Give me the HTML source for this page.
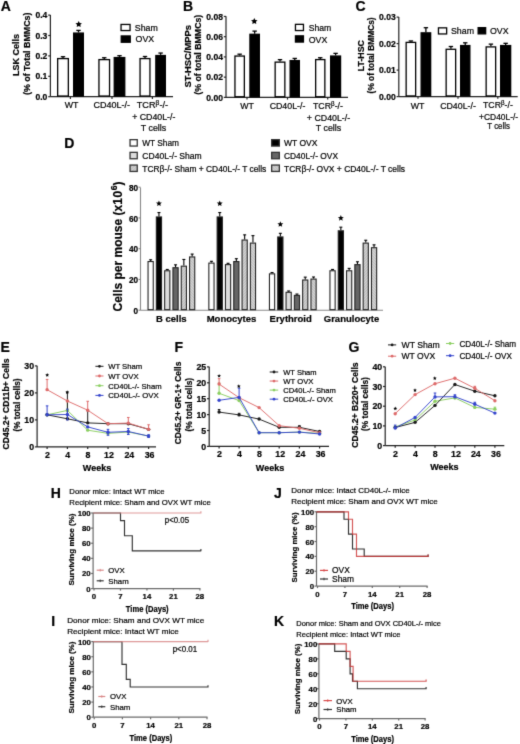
<!DOCTYPE html>
<html><head><meta charset="utf-8"><style>
html,body{margin:0;padding:0;background:#fff;width:520px;height:744px;overflow:hidden}
svg{display:block}
text{font-family:"Liberation Sans", sans-serif;stroke:#000;stroke-width:0.2px;paint-order:stroke}
</style></head><body>
<svg width="520" height="744" viewBox="0 0 520 744">
<defs><pattern id="h1" patternUnits="userSpaceOnUse" width="2" height="2" patternTransform="rotate(45)">
<rect width="2" height="2" fill="#d2d2d2"/><line x1="0" y1="0" x2="0" y2="2" stroke="#999" stroke-width="0.8"/></pattern><pattern id="h2" patternUnits="userSpaceOnUse" width="2" height="2" patternTransform="rotate(-45)">
<rect width="2" height="2" fill="#d4d4d4"/><line x1="0" y1="0" x2="0" y2="2" stroke="#9a9a9a" stroke-width="0.8"/></pattern><filter id="bl" x="0" y="0" width="520" height="744" filterUnits="userSpaceOnUse" color-interpolation-filters="sRGB"><feConvolveMatrix order="3" kernelMatrix="0.0225 0.15 0.0225 0.15 1 0.15 0.0225 0.15 0.0225" edgeMode="duplicate"/></filter></defs>
<g filter="url(#bl)">
<rect width="520" height="744" fill="#fff"/>
<text x="0.8" y="11" font-size="14" font-weight="bold" text-anchor="start" fill="#000">A</text>
<line x1="50.4" y1="15" x2="50.4" y2="96.7" stroke="#222" stroke-width="1.2"/>
<line x1="50.4" y1="96.7" x2="173" y2="96.7" stroke="#222" stroke-width="1.2"/>
<line x1="48.199999999999996" y1="96.7" x2="50.4" y2="96.7" stroke="#222" stroke-width="1.2"/>
<text x="47.4" y="99.8" font-size="8.6" font-weight="bold" text-anchor="end" fill="#000">0.0</text>
<line x1="48.199999999999996" y1="76.3" x2="50.4" y2="76.3" stroke="#222" stroke-width="1.2"/>
<text x="47.4" y="79.39999999999999" font-size="8.6" font-weight="bold" text-anchor="end" fill="#000">0.1</text>
<line x1="48.199999999999996" y1="55.9" x2="50.4" y2="55.9" stroke="#222" stroke-width="1.2"/>
<text x="47.4" y="59.0" font-size="8.6" font-weight="bold" text-anchor="end" fill="#000">0.2</text>
<line x1="48.199999999999996" y1="35.50000000000001" x2="50.4" y2="35.50000000000001" stroke="#222" stroke-width="1.2"/>
<text x="47.4" y="38.60000000000001" font-size="8.6" font-weight="bold" text-anchor="end" fill="#000">0.3</text>
<line x1="48.199999999999996" y1="15.099999999999994" x2="50.4" y2="15.099999999999994" stroke="#222" stroke-width="1.2"/>
<text x="47.4" y="18.199999999999996" font-size="8.6" font-weight="bold" text-anchor="end" fill="#000">0.4</text>
<line x1="70.4" y1="96.7" x2="70.4" y2="98.9" stroke="#222" stroke-width="1.2"/>
<line x1="112" y1="96.7" x2="112" y2="98.9" stroke="#222" stroke-width="1.2"/>
<line x1="152.4" y1="96.7" x2="152.4" y2="98.9" stroke="#222" stroke-width="1.2"/>
<line x1="63.0" y1="56.716" x2="63.0" y2="57.940000000000005" stroke="#000" stroke-width="1.3"/>
<line x1="60.8" y1="56.716" x2="65.2" y2="56.716" stroke="#000" stroke-width="1.3"/>
<rect x="57.65" y="58.59" width="10.7" height="37.46" fill="#fff" stroke="#000" stroke-width="1.3"/>
<line x1="78.5" y1="30.400000000000006" x2="78.5" y2="32.44" stroke="#000" stroke-width="1.3"/>
<line x1="76.3" y1="30.400000000000006" x2="80.7" y2="30.400000000000006" stroke="#000" stroke-width="1.3"/>
<rect x="73.65" y="33.09" width="9.7" height="62.96" fill="#000" stroke="#000" stroke-width="1.3"/>
<line x1="104.25" y1="57.736000000000004" x2="104.25" y2="58.96" stroke="#000" stroke-width="1.3"/>
<line x1="102.05" y1="57.736000000000004" x2="106.45" y2="57.736000000000004" stroke="#000" stroke-width="1.3"/>
<rect x="98.95" y="59.61" width="10.6" height="36.44" fill="#fff" stroke="#000" stroke-width="1.3"/>
<line x1="119.5" y1="55.696" x2="119.5" y2="56.92" stroke="#000" stroke-width="1.3"/>
<line x1="117.3" y1="55.696" x2="121.7" y2="55.696" stroke="#000" stroke-width="1.3"/>
<rect x="114.25" y="57.57" width="10.5" height="38.48" fill="#000" stroke="#000" stroke-width="1.3"/>
<line x1="145.0" y1="56.512" x2="145.0" y2="57.940000000000005" stroke="#000" stroke-width="1.3"/>
<line x1="142.8" y1="56.512" x2="147.2" y2="56.512" stroke="#000" stroke-width="1.3"/>
<rect x="140.05" y="58.59" width="9.9" height="37.46" fill="#fff" stroke="#000" stroke-width="1.3"/>
<line x1="160.6" y1="53.044000000000004" x2="160.6" y2="54.88" stroke="#000" stroke-width="1.3"/>
<line x1="158.4" y1="53.044000000000004" x2="162.79999999999998" y2="53.044000000000004" stroke="#000" stroke-width="1.3"/>
<rect x="155.85" y="55.53" width="9.5" height="40.52" fill="#000" stroke="#000" stroke-width="1.3"/>
<polygon points="78.70,20.90 79.70,22.92 81.93,23.25 80.32,24.83 80.70,27.05 78.70,26.00 76.70,27.05 77.08,24.83 75.47,23.25 77.70,22.92" fill="#000"/>
<rect x="121.05" y="24.45" width="9.0" height="6.1" fill="#fff" stroke="#000" stroke-width="1.3"/>
<text x="134.8" y="30.9" font-size="8.8" text-anchor="start" fill="#000">Sham</text>
<rect x="121.25" y="35.95" width="9.0" height="6.3" fill="#000" stroke="#000" stroke-width="1.3"/>
<text x="135.6" y="42.4" font-size="8.8" text-anchor="start" fill="#000">OVX</text>
<text x="19" y="55" font-size="9" font-weight="bold" text-anchor="middle" fill="#000" transform="rotate(-90 19 55)">LSK Cells</text>
<text x="29.8" y="53.8" font-size="9" font-weight="bold" text-anchor="middle" fill="#000" transform="rotate(-90 29.8 53.8)" textLength="82.5" lengthAdjust="spacingAndGlyphs">(% of Total BMMCs)</text>
<text x="71.6" y="108" font-size="8.8" text-anchor="middle" fill="#000">WT</text>
<text x="111.8" y="108" font-size="8.8" text-anchor="middle" fill="#000" textLength="36.5" lengthAdjust="spacingAndGlyphs">CD40L-/-</text>
<text x="152.4" y="108" font-size="8.8" text-anchor="middle" fill="#000" textLength="31.3" lengthAdjust="spacingAndGlyphs">TCR<tspan font-size="6.34" dy="-2.6">β</tspan><tspan dy="2.6">-/-</tspan></text>
<text x="153.8" y="119.5" font-size="8.8" text-anchor="middle" fill="#000">+ CD40L-/-</text>
<text x="153.5" y="131" font-size="8.8" text-anchor="middle" fill="#000">T cells</text>
<text x="183" y="11" font-size="14" font-weight="bold" text-anchor="start" fill="#000">B</text>
<line x1="226" y1="16.2" x2="226" y2="97.4" stroke="#222" stroke-width="1.2"/>
<line x1="226" y1="97.4" x2="348" y2="97.4" stroke="#222" stroke-width="1.2"/>
<line x1="223.8" y1="97.4" x2="226" y2="97.4" stroke="#222" stroke-width="1.2"/>
<text x="223" y="100.5" font-size="8.6" font-weight="bold" text-anchor="end" fill="#000">0.00</text>
<line x1="223.8" y1="77.16" x2="226" y2="77.16" stroke="#222" stroke-width="1.2"/>
<text x="223" y="80.25999999999999" font-size="8.6" font-weight="bold" text-anchor="end" fill="#000">0.02</text>
<line x1="223.8" y1="56.92" x2="226" y2="56.92" stroke="#222" stroke-width="1.2"/>
<text x="223" y="60.02" font-size="8.6" font-weight="bold" text-anchor="end" fill="#000">0.04</text>
<line x1="223.8" y1="36.68000000000001" x2="226" y2="36.68000000000001" stroke="#222" stroke-width="1.2"/>
<text x="223" y="39.78000000000001" font-size="8.6" font-weight="bold" text-anchor="end" fill="#000">0.06</text>
<line x1="223.8" y1="16.439999999999998" x2="226" y2="16.439999999999998" stroke="#222" stroke-width="1.2"/>
<text x="223" y="19.54" font-size="8.6" font-weight="bold" text-anchor="end" fill="#000">0.08</text>
<line x1="247" y1="97.4" x2="247" y2="99.60000000000001" stroke="#222" stroke-width="1.2"/>
<line x1="287.5" y1="97.4" x2="287.5" y2="99.60000000000001" stroke="#222" stroke-width="1.2"/>
<line x1="327.7" y1="97.4" x2="327.7" y2="99.60000000000001" stroke="#222" stroke-width="1.2"/>
<line x1="239.65" y1="54.1876" x2="239.65" y2="55.402" stroke="#000" stroke-width="1.3"/>
<line x1="237.45000000000002" y1="54.1876" x2="241.85" y2="54.1876" stroke="#000" stroke-width="1.3"/>
<rect x="234.95" y="56.05" width="9.4" height="40.7" fill="#fff" stroke="#000" stroke-width="1.3"/>
<line x1="254.65" y1="31.114000000000004" x2="254.65" y2="33.644000000000005" stroke="#000" stroke-width="1.3"/>
<line x1="252.45000000000002" y1="31.114000000000004" x2="256.85" y2="31.114000000000004" stroke="#000" stroke-width="1.3"/>
<rect x="249.95" y="34.29" width="9.4" height="62.46" fill="#000" stroke="#000" stroke-width="1.3"/>
<line x1="280.0" y1="59.65240000000001" x2="280.0" y2="61.47400000000001" stroke="#000" stroke-width="1.3"/>
<line x1="277.8" y1="59.65240000000001" x2="282.2" y2="59.65240000000001" stroke="#000" stroke-width="1.3"/>
<rect x="275.15" y="62.12" width="9.7" height="34.63" fill="#fff" stroke="#000" stroke-width="1.3"/>
<line x1="294.75" y1="58.43800000000001" x2="294.75" y2="59.95600000000001" stroke="#000" stroke-width="1.3"/>
<line x1="292.55" y1="58.43800000000001" x2="296.95" y2="58.43800000000001" stroke="#000" stroke-width="1.3"/>
<rect x="290.15" y="60.61" width="9.2" height="36.14" fill="#000" stroke="#000" stroke-width="1.3"/>
<line x1="320.25" y1="57.729600000000005" x2="320.25" y2="58.94400000000001" stroke="#000" stroke-width="1.3"/>
<line x1="318.05" y1="57.729600000000005" x2="322.45" y2="57.729600000000005" stroke="#000" stroke-width="1.3"/>
<rect x="315.65" y="59.59" width="9.2" height="37.16" fill="#fff" stroke="#000" stroke-width="1.3"/>
<line x1="335.6" y1="53.378" x2="335.6" y2="55.402" stroke="#000" stroke-width="1.3"/>
<line x1="333.40000000000003" y1="53.378" x2="337.8" y2="53.378" stroke="#000" stroke-width="1.3"/>
<rect x="330.65" y="56.05" width="9.9" height="40.7" fill="#000" stroke="#000" stroke-width="1.3"/>
<polygon points="254.30,17.90 255.30,19.92 257.53,20.25 255.92,21.83 256.30,24.05 254.30,23.00 252.30,24.05 252.68,21.83 251.07,20.25 253.30,19.92" fill="#000"/>
<rect x="295.45" y="24.35" width="8.0" height="6.2" fill="#fff" stroke="#000" stroke-width="1.3"/>
<text x="308.7" y="31" font-size="8.8" text-anchor="start" fill="#000" textLength="22.5" lengthAdjust="spacingAndGlyphs">Sham</text>
<rect x="295.45" y="35.85" width="8.0" height="6.2" fill="#000" stroke="#000" stroke-width="1.3"/>
<text x="308.7" y="42.6" font-size="8.8" text-anchor="start" fill="#000">OVX</text>
<text x="191.5" y="56.3" font-size="9.4" font-weight="bold" text-anchor="middle" fill="#000" transform="rotate(-90 191.5 56.3)">ST-HSC/MPPs</text>
<text x="201.2" y="54.7" font-size="8.8" font-weight="bold" text-anchor="middle" fill="#000" transform="rotate(-90 201.2 54.7)" textLength="80" lengthAdjust="spacingAndGlyphs">(% of total  BMMCs)</text>
<text x="247" y="108.5" font-size="8.8" text-anchor="middle" fill="#000">WT</text>
<text x="287.5" y="108.5" font-size="8.8" text-anchor="middle" fill="#000">CD40L-/-</text>
<text x="328" y="108.5" font-size="8.8" text-anchor="middle" fill="#000" textLength="30" lengthAdjust="spacingAndGlyphs">TCR<tspan font-size="6.34" dy="-2.6">β</tspan><tspan dy="2.6">-/-</tspan></text>
<text x="328.5" y="121" font-size="8.8" text-anchor="middle" fill="#000">+ CD40L-/-</text>
<text x="328.5" y="131" font-size="8.8" text-anchor="middle" fill="#000">T cells</text>
<text x="355.5" y="11" font-size="14" font-weight="bold" text-anchor="start" fill="#000">C</text>
<line x1="398.8" y1="17" x2="398.8" y2="96.6" stroke="#222" stroke-width="1.2"/>
<line x1="398.8" y1="96.6" x2="517.7" y2="96.6" stroke="#222" stroke-width="1.2"/>
<line x1="396.6" y1="96.6" x2="398.8" y2="96.6" stroke="#222" stroke-width="1.2"/>
<text x="395.8" y="99.69999999999999" font-size="8.6" font-weight="bold" text-anchor="end" fill="#000">0.00</text>
<line x1="396.6" y1="70.1" x2="398.8" y2="70.1" stroke="#222" stroke-width="1.2"/>
<text x="395.8" y="73.19999999999999" font-size="8.6" font-weight="bold" text-anchor="end" fill="#000">0.01</text>
<line x1="396.6" y1="43.599999999999994" x2="398.8" y2="43.599999999999994" stroke="#222" stroke-width="1.2"/>
<text x="395.8" y="46.699999999999996" font-size="8.6" font-weight="bold" text-anchor="end" fill="#000">0.02</text>
<line x1="396.6" y1="17.099999999999994" x2="398.8" y2="17.099999999999994" stroke="#222" stroke-width="1.2"/>
<text x="395.8" y="20.199999999999996" font-size="8.6" font-weight="bold" text-anchor="end" fill="#000">0.03</text>
<line x1="418" y1="96.6" x2="418" y2="98.8" stroke="#222" stroke-width="1.2"/>
<line x1="458" y1="96.6" x2="458" y2="98.8" stroke="#222" stroke-width="1.2"/>
<line x1="497.8" y1="96.6" x2="497.8" y2="98.8" stroke="#222" stroke-width="1.2"/>
<line x1="410.9" y1="40.94999999999999" x2="410.9" y2="41.745" stroke="#000" stroke-width="1.3"/>
<line x1="408.7" y1="40.94999999999999" x2="413.09999999999997" y2="40.94999999999999" stroke="#000" stroke-width="1.3"/>
<rect x="406.15" y="42.39" width="9.5" height="53.55" fill="#fff" stroke="#000" stroke-width="1.3"/>
<line x1="425.9" y1="27.700000000000003" x2="425.9" y2="32.205" stroke="#000" stroke-width="1.3"/>
<line x1="423.7" y1="27.700000000000003" x2="428.09999999999997" y2="27.700000000000003" stroke="#000" stroke-width="1.3"/>
<rect x="421.15" y="32.85" width="9.5" height="63.09" fill="#000" stroke="#000" stroke-width="1.3"/>
<line x1="450.9" y1="46.51499999999999" x2="450.9" y2="48.63499999999999" stroke="#000" stroke-width="1.3"/>
<line x1="448.7" y1="46.51499999999999" x2="453.09999999999997" y2="46.51499999999999" stroke="#000" stroke-width="1.3"/>
<rect x="446.15" y="49.28" width="9.5" height="46.67" fill="#fff" stroke="#000" stroke-width="1.3"/>
<line x1="465.25" y1="42.805" x2="465.25" y2="44.925" stroke="#000" stroke-width="1.3"/>
<line x1="463.05" y1="42.805" x2="467.45" y2="42.805" stroke="#000" stroke-width="1.3"/>
<rect x="460.65" y="45.57" width="9.2" height="50.38" fill="#000" stroke="#000" stroke-width="1.3"/>
<line x1="490.9" y1="44.13" x2="490.9" y2="46.24999999999999" stroke="#000" stroke-width="1.3"/>
<line x1="488.7" y1="44.13" x2="493.09999999999997" y2="44.13" stroke="#000" stroke-width="1.3"/>
<rect x="486.15" y="46.9" width="9.5" height="49.05" fill="#fff" stroke="#000" stroke-width="1.3"/>
<line x1="505.65" y1="43.334999999999994" x2="505.65" y2="44.925" stroke="#000" stroke-width="1.3"/>
<line x1="503.45" y1="43.334999999999994" x2="507.84999999999997" y2="43.334999999999994" stroke="#000" stroke-width="1.3"/>
<rect x="500.65" y="45.57" width="10.0" height="50.38" fill="#000" stroke="#000" stroke-width="1.3"/>
<rect x="438.45" y="27.85" width="8.2" height="6.1" fill="#fff" stroke="#000" stroke-width="1.3"/>
<text x="451" y="34.3" font-size="8.8" text-anchor="start" fill="#000">Sham</text>
<rect x="478.15" y="27.65" width="7.5" height="6.2" fill="#000" stroke="#000" stroke-width="1.3"/>
<text x="490" y="34.3" font-size="8.8" text-anchor="start" fill="#000">OVX</text>
<text x="364.3" y="55.6" font-size="8.8" font-weight="bold" text-anchor="middle" fill="#000" transform="rotate(-90 364.3 55.6)">LT-HSC</text>
<text x="374" y="55.4" font-size="8.6" font-weight="bold" text-anchor="middle" fill="#000" transform="rotate(-90 374 55.4)" textLength="76" lengthAdjust="spacingAndGlyphs">(% of total BMMCs)</text>
<text x="417.5" y="108.5" font-size="8.8" text-anchor="middle" fill="#000">WT</text>
<text x="458" y="108.5" font-size="8.8" text-anchor="middle" fill="#000">CD40L-/-</text>
<text x="497.9" y="107.6" font-size="8.8" text-anchor="middle" fill="#000" textLength="29.8" lengthAdjust="spacingAndGlyphs">TCR<tspan font-size="6.34" dy="-2.6">β</tspan><tspan dy="2.6">-/-</tspan></text>
<text x="498.6" y="119.6" font-size="8.8" text-anchor="middle" fill="#000" textLength="39" lengthAdjust="spacingAndGlyphs">+CD40L-/-</text>
<text x="498.6" y="129.3" font-size="8.8" text-anchor="middle" fill="#000" textLength="22.6" lengthAdjust="spacingAndGlyphs">T cells</text>
<text x="64.3" y="148" font-size="14" font-weight="bold" text-anchor="start" fill="#000">D</text>
<rect x="130.05" y="139.65" width="7.2" height="6.4" fill="#fff" stroke="#333" stroke-width="1.3"/>
<text x="142.3" y="146.0" font-size="8.4" text-anchor="start" fill="#000" textLength="36.7" lengthAdjust="spacingAndGlyphs">WT Sham</text>
<rect x="130.05" y="152.35" width="7.2" height="6.4" fill="#dcdcdc" stroke="#333" stroke-width="1.3"/>
<text x="142.3" y="159.1" font-size="8.4" text-anchor="start" fill="#000" textLength="59.4" lengthAdjust="spacingAndGlyphs">CD40L-/- Sham</text>
<rect x="130.05" y="165.05" width="7.2" height="6.4" fill="url(#h1)" stroke="#333" stroke-width="1.3"/>
<text x="142.3" y="172.2" font-size="8.4" text-anchor="start" fill="#000" textLength="124" lengthAdjust="spacingAndGlyphs">TCRβ-/- Sham + CD40L-/- T cells</text>
<rect x="271.65" y="139.65" width="7.7" height="6.4" fill="#000" stroke="#333" stroke-width="1.3"/>
<text x="284" y="146.0" font-size="8.4" text-anchor="start" fill="#000" textLength="33.5" lengthAdjust="spacingAndGlyphs">WT OVX</text>
<rect x="271.65" y="152.35" width="7.7" height="6.4" fill="#666" stroke="#333" stroke-width="1.3"/>
<text x="284" y="159.1" font-size="8.4" text-anchor="start" fill="#000" textLength="54" lengthAdjust="spacingAndGlyphs">CD40L-/- OVX</text>
<rect x="271.65" y="165.05" width="7.7" height="6.4" fill="url(#h2)" stroke="#333" stroke-width="1.3"/>
<text x="284" y="172.2" font-size="8.4" text-anchor="start" fill="#000" textLength="121" lengthAdjust="spacingAndGlyphs">TCRβ-/- OVX + CD40L-/- T cells</text>
<line x1="140.5" y1="187.5" x2="140.5" y2="310.2" stroke="#888" stroke-width="1.1"/>
<line x1="140.5" y1="310.2" x2="383" y2="310.2" stroke="#888" stroke-width="1.1"/>
<line x1="138.5" y1="310.2" x2="140.5" y2="310.2" stroke="#888" stroke-width="1.1"/>
<text x="138.0" y="313.8" font-size="8.2" font-weight="bold" text-anchor="end" fill="#000">0</text>
<line x1="138.5" y1="279.45" x2="140.5" y2="279.45" stroke="#888" stroke-width="1.1"/>
<text x="138.0" y="283.05" font-size="8.2" font-weight="bold" text-anchor="end" fill="#000">20</text>
<line x1="138.5" y1="248.7" x2="140.5" y2="248.7" stroke="#888" stroke-width="1.1"/>
<text x="138.0" y="252.29999999999998" font-size="8.2" font-weight="bold" text-anchor="end" fill="#000">40</text>
<line x1="138.5" y1="217.95" x2="140.5" y2="217.95" stroke="#888" stroke-width="1.1"/>
<text x="138.0" y="221.54999999999998" font-size="8.2" font-weight="bold" text-anchor="end" fill="#000">60</text>
<line x1="138.5" y1="187.2" x2="140.5" y2="187.2" stroke="#888" stroke-width="1.1"/>
<text x="138.0" y="190.79999999999998" font-size="8.2" font-weight="bold" text-anchor="end" fill="#000">80</text>
<line x1="150.65" y1="259.77" x2="150.65" y2="261.0" stroke="#000" stroke-width="1.1"/>
<line x1="149.15" y1="259.77" x2="152.15" y2="259.77" stroke="#000" stroke-width="1.1"/>
<rect x="148.05" y="261.55" width="5.2" height="48.1" fill="#fff" stroke="#222" stroke-width="1.1"/>
<line x1="158.95000000000002" y1="212.56874999999997" x2="158.95000000000002" y2="216.41249999999997" stroke="#000" stroke-width="1.1"/>
<line x1="157.45000000000002" y1="212.56874999999997" x2="160.45000000000002" y2="212.56874999999997" stroke="#000" stroke-width="1.1"/>
<rect x="156.35" y="216.96" width="5.2" height="92.69" fill="#000" stroke="#222" stroke-width="1.1"/>
<line x1="167.25" y1="269.45624999999995" x2="167.25" y2="270.22499999999997" stroke="#000" stroke-width="1.1"/>
<line x1="165.75" y1="269.45624999999995" x2="168.75" y2="269.45624999999995" stroke="#000" stroke-width="1.1"/>
<rect x="164.65" y="270.77" width="5.2" height="38.88" fill="#dcdcdc" stroke="#222" stroke-width="1.1"/>
<line x1="175.55" y1="264.84375" x2="175.55" y2="267.15" stroke="#000" stroke-width="1.1"/>
<line x1="174.05" y1="264.84375" x2="177.05" y2="264.84375" stroke="#000" stroke-width="1.1"/>
<rect x="172.95" y="267.7" width="5.2" height="41.95" fill="#666" stroke="#222" stroke-width="1.1"/>
<line x1="183.85" y1="259.4625" x2="183.85" y2="265.61249999999995" stroke="#000" stroke-width="1.1"/>
<line x1="182.35" y1="259.4625" x2="185.35" y2="259.4625" stroke="#000" stroke-width="1.1"/>
<rect x="181.25" y="266.16" width="5.2" height="43.49" fill="url(#h1)" stroke="#222" stroke-width="1.1"/>
<line x1="192.15" y1="254.08124999999998" x2="192.15" y2="256.3875" stroke="#000" stroke-width="1.1"/>
<line x1="190.65" y1="254.08124999999998" x2="193.65" y2="254.08124999999998" stroke="#000" stroke-width="1.1"/>
<rect x="189.55" y="256.94" width="5.2" height="52.71" fill="url(#h2)" stroke="#222" stroke-width="1.1"/>
<line x1="211.45000000000002" y1="261.3075" x2="211.45000000000002" y2="262.53749999999997" stroke="#000" stroke-width="1.1"/>
<line x1="209.95000000000002" y1="261.3075" x2="212.95000000000002" y2="261.3075" stroke="#000" stroke-width="1.1"/>
<rect x="208.85" y="263.09" width="5.2" height="46.56" fill="#fff" stroke="#222" stroke-width="1.1"/>
<line x1="219.75000000000003" y1="212.56874999999997" x2="219.75000000000003" y2="216.41249999999997" stroke="#000" stroke-width="1.1"/>
<line x1="218.25000000000003" y1="212.56874999999997" x2="221.25000000000003" y2="212.56874999999997" stroke="#000" stroke-width="1.1"/>
<rect x="217.15" y="216.96" width="5.2" height="92.69" fill="#000" stroke="#222" stroke-width="1.1"/>
<line x1="228.05" y1="263.30625" x2="228.05" y2="264.075" stroke="#000" stroke-width="1.1"/>
<line x1="226.55" y1="263.30625" x2="229.55" y2="263.30625" stroke="#000" stroke-width="1.1"/>
<rect x="225.45" y="264.62" width="5.2" height="45.02" fill="#dcdcdc" stroke="#222" stroke-width="1.1"/>
<line x1="236.35000000000002" y1="258.69374999999997" x2="236.35000000000002" y2="261.0" stroke="#000" stroke-width="1.1"/>
<line x1="234.85000000000002" y1="258.69374999999997" x2="237.85000000000002" y2="258.69374999999997" stroke="#000" stroke-width="1.1"/>
<rect x="233.75" y="261.55" width="5.2" height="48.1" fill="#666" stroke="#222" stroke-width="1.1"/>
<line x1="244.65" y1="234.86249999999998" x2="244.65" y2="239.47499999999997" stroke="#000" stroke-width="1.1"/>
<line x1="243.15" y1="234.86249999999998" x2="246.15" y2="234.86249999999998" stroke="#000" stroke-width="1.1"/>
<rect x="242.05" y="240.02" width="5.2" height="69.63" fill="url(#h1)" stroke="#222" stroke-width="1.1"/>
<line x1="252.95000000000002" y1="235.63124999999997" x2="252.95000000000002" y2="242.54999999999998" stroke="#000" stroke-width="1.1"/>
<line x1="251.45000000000002" y1="235.63124999999997" x2="254.45000000000002" y2="235.63124999999997" stroke="#000" stroke-width="1.1"/>
<rect x="250.35" y="243.1" width="5.2" height="66.55" fill="url(#h2)" stroke="#222" stroke-width="1.1"/>
<line x1="272.04999999999995" y1="272.53125" x2="272.04999999999995" y2="273.29999999999995" stroke="#000" stroke-width="1.1"/>
<line x1="270.54999999999995" y1="272.53125" x2="273.54999999999995" y2="272.53125" stroke="#000" stroke-width="1.1"/>
<rect x="269.45" y="273.85" width="5.2" height="35.8" fill="#fff" stroke="#222" stroke-width="1.1"/>
<line x1="280.35" y1="233.325" x2="280.35" y2="236.39999999999998" stroke="#000" stroke-width="1.1"/>
<line x1="278.85" y1="233.325" x2="281.85" y2="233.325" stroke="#000" stroke-width="1.1"/>
<rect x="277.75" y="236.95" width="5.2" height="72.7" fill="#000" stroke="#222" stroke-width="1.1"/>
<line x1="288.65" y1="290.98125" x2="288.65" y2="291.75" stroke="#000" stroke-width="1.1"/>
<line x1="287.15" y1="290.98125" x2="290.15" y2="290.98125" stroke="#000" stroke-width="1.1"/>
<rect x="286.05" y="292.3" width="5.2" height="17.35" fill="#dcdcdc" stroke="#222" stroke-width="1.1"/>
<line x1="296.94999999999993" y1="294.05625" x2="296.94999999999993" y2="294.825" stroke="#000" stroke-width="1.1"/>
<line x1="295.44999999999993" y1="294.05625" x2="298.44999999999993" y2="294.05625" stroke="#000" stroke-width="1.1"/>
<rect x="294.35" y="295.38" width="5.2" height="14.28" fill="#666" stroke="#222" stroke-width="1.1"/>
<line x1="305.25" y1="277.14375" x2="305.25" y2="279.45" stroke="#000" stroke-width="1.1"/>
<line x1="303.75" y1="277.14375" x2="306.75" y2="277.14375" stroke="#000" stroke-width="1.1"/>
<rect x="302.65" y="280.0" width="5.2" height="29.65" fill="url(#h1)" stroke="#222" stroke-width="1.1"/>
<line x1="313.54999999999995" y1="276.99" x2="313.54999999999995" y2="278.5275" stroke="#000" stroke-width="1.1"/>
<line x1="312.04999999999995" y1="276.99" x2="315.04999999999995" y2="276.99" stroke="#000" stroke-width="1.1"/>
<rect x="310.95" y="279.08" width="5.2" height="30.57" fill="url(#h2)" stroke="#222" stroke-width="1.1"/>
<line x1="332.54999999999995" y1="269.45624999999995" x2="332.54999999999995" y2="270.22499999999997" stroke="#000" stroke-width="1.1"/>
<line x1="331.04999999999995" y1="269.45624999999995" x2="334.04999999999995" y2="269.45624999999995" stroke="#000" stroke-width="1.1"/>
<rect x="329.95" y="270.77" width="5.2" height="38.88" fill="#fff" stroke="#222" stroke-width="1.1"/>
<line x1="340.85" y1="227.17499999999998" x2="340.85" y2="230.25" stroke="#000" stroke-width="1.1"/>
<line x1="339.35" y1="227.17499999999998" x2="342.35" y2="227.17499999999998" stroke="#000" stroke-width="1.1"/>
<rect x="338.25" y="230.8" width="5.2" height="78.85" fill="#000" stroke="#222" stroke-width="1.1"/>
<line x1="349.15" y1="268.38" x2="349.15" y2="270.22499999999997" stroke="#000" stroke-width="1.1"/>
<line x1="347.65" y1="268.38" x2="350.65" y2="268.38" stroke="#000" stroke-width="1.1"/>
<rect x="346.55" y="270.77" width="5.2" height="38.88" fill="#dcdcdc" stroke="#222" stroke-width="1.1"/>
<line x1="357.44999999999993" y1="261.76874999999995" x2="357.44999999999993" y2="264.075" stroke="#000" stroke-width="1.1"/>
<line x1="355.94999999999993" y1="261.76874999999995" x2="358.94999999999993" y2="261.76874999999995" stroke="#000" stroke-width="1.1"/>
<rect x="354.85" y="264.62" width="5.2" height="45.02" fill="#666" stroke="#222" stroke-width="1.1"/>
<line x1="365.75" y1="240.24374999999998" x2="365.75" y2="242.54999999999998" stroke="#000" stroke-width="1.1"/>
<line x1="364.25" y1="240.24374999999998" x2="367.25" y2="240.24374999999998" stroke="#000" stroke-width="1.1"/>
<rect x="363.15" y="243.1" width="5.2" height="66.55" fill="url(#h1)" stroke="#222" stroke-width="1.1"/>
<line x1="374.04999999999995" y1="244.85625" x2="374.04999999999995" y2="247.1625" stroke="#000" stroke-width="1.1"/>
<line x1="372.54999999999995" y1="244.85625" x2="375.54999999999995" y2="244.85625" stroke="#000" stroke-width="1.1"/>
<rect x="371.45" y="247.71" width="5.2" height="61.94" fill="url(#h2)" stroke="#222" stroke-width="1.1"/>
<polygon points="158.95,200.47 159.77,202.44 161.90,202.61 160.28,204.00 160.77,206.08 158.95,204.96 157.13,206.08 157.62,204.00 156.00,202.61 158.13,202.44" fill="#000"/>
<polygon points="219.75,200.47 220.57,202.44 222.70,202.61 221.08,204.00 221.57,206.08 219.75,204.96 217.93,206.08 218.42,204.00 216.80,202.61 218.93,202.44" fill="#000"/>
<polygon points="280.35,221.22 281.17,223.20 283.30,223.37 281.68,224.76 282.17,226.83 280.35,225.72 278.53,226.83 279.02,224.76 277.40,223.37 279.53,223.20" fill="#000"/>
<polygon points="340.85,215.07 341.67,217.05 343.80,217.22 342.18,218.61 342.67,220.68 340.85,219.57 339.03,220.68 339.52,218.61 337.90,217.22 340.03,217.05" fill="#000"/>
<text x="171.3" y="321.8" font-size="9.5" font-weight="bold" text-anchor="middle" fill="#000">B cells</text>
<text x="231.5" y="321.8" font-size="9.5" font-weight="bold" text-anchor="middle" fill="#000">Monocytes</text>
<text x="290.7" y="321.8" font-size="9.5" font-weight="bold" text-anchor="middle" fill="#000">Erythroid</text>
<text x="351.5" y="321.8" font-size="9.5" font-weight="bold" text-anchor="middle" fill="#000">Granulocyte</text>
<text x="121.8" y="246.5" font-size="12" font-weight="bold" text-anchor="middle" fill="#000" transform="rotate(-90 121.8 246.5)">Cells per mouse (x<tspan letter-spacing="0.6">10</tspan><tspan font-size="8.5" dy="-4.8">6</tspan><tspan dy="4.8">)</tspan></text>
<text x="0.5" y="352" font-size="14" font-weight="bold" text-anchor="start" fill="#000">E</text>
<line x1="37.1" y1="365.7" x2="37.1" y2="446.9" stroke="#222" stroke-width="1.2"/>
<line x1="37.1" y1="446.9" x2="156" y2="446.9" stroke="#222" stroke-width="1.2"/>
<line x1="34.9" y1="446.9" x2="37.1" y2="446.9" stroke="#222" stroke-width="1.2"/>
<text x="34.1" y="450.09999999999997" font-size="8.8" font-weight="bold" text-anchor="end" fill="#000">0</text>
<line x1="34.9" y1="419.9" x2="37.1" y2="419.9" stroke="#222" stroke-width="1.2"/>
<text x="34.1" y="423.09999999999997" font-size="8.8" font-weight="bold" text-anchor="end" fill="#000">10</text>
<line x1="34.9" y1="392.9" x2="37.1" y2="392.9" stroke="#222" stroke-width="1.2"/>
<text x="34.1" y="396.09999999999997" font-size="8.8" font-weight="bold" text-anchor="end" fill="#000">20</text>
<line x1="34.9" y1="365.9" x2="37.1" y2="365.9" stroke="#222" stroke-width="1.2"/>
<text x="34.1" y="369.09999999999997" font-size="8.8" font-weight="bold" text-anchor="end" fill="#000">30</text>
<line x1="47.1" y1="446.9" x2="47.1" y2="449.09999999999997" stroke="#222" stroke-width="1.2"/>
<text x="47.4" y="457.9" font-size="8.8" font-weight="bold" text-anchor="middle" fill="#000">2</text>
<line x1="67.4" y1="446.9" x2="67.4" y2="449.09999999999997" stroke="#222" stroke-width="1.2"/>
<text x="67.7" y="457.9" font-size="8.8" font-weight="bold" text-anchor="middle" fill="#000">4</text>
<line x1="87.7" y1="446.9" x2="87.7" y2="449.09999999999997" stroke="#222" stroke-width="1.2"/>
<text x="88.0" y="457.9" font-size="8.8" font-weight="bold" text-anchor="middle" fill="#000">8</text>
<line x1="108" y1="446.9" x2="108" y2="449.09999999999997" stroke="#222" stroke-width="1.2"/>
<text x="109" y="457.9" font-size="8.8" font-weight="bold" text-anchor="middle" fill="#000">12</text>
<line x1="128.3" y1="446.9" x2="128.3" y2="449.09999999999997" stroke="#222" stroke-width="1.2"/>
<text x="129.3" y="457.9" font-size="8.8" font-weight="bold" text-anchor="middle" fill="#000">24</text>
<line x1="148.6" y1="446.9" x2="148.6" y2="449.09999999999997" stroke="#222" stroke-width="1.2"/>
<text x="149.6" y="457.9" font-size="8.8" font-weight="bold" text-anchor="middle" fill="#000">36</text>
<path d="M47.1,414.8 L67.4,410.4 L87.7,430.2 L108.0,433.4 L128.3,432.0 L148.6,436.1" stroke="#8ccf62" stroke-width="0.95" fill="none"/>
<circle cx="47.1" cy="414.77" r="1.7" fill="#8ccf62"/>
<line x1="67.4" y1="401.0" x2="67.4" y2="410.45" stroke="#8ccf62" stroke-width="1"/>
<line x1="66.10000000000001" y1="401.0" x2="68.7" y2="401.0" stroke="#8ccf62" stroke-width="1"/>
<circle cx="67.4" cy="410.45" r="1.7" fill="#8ccf62"/>
<circle cx="87.7" cy="430.15999999999997" r="1.7" fill="#8ccf62"/>
<circle cx="108" cy="433.4" r="1.7" fill="#8ccf62"/>
<circle cx="128.3" cy="432.04999999999995" r="1.7" fill="#8ccf62"/>
<circle cx="148.6" cy="436.09999999999997" r="1.7" fill="#8ccf62"/>
<path d="M47.1,414.8 L67.4,418.8 L87.7,422.9 L108.0,423.7 L128.3,423.7 L148.6,429.3" stroke="#1a1a1a" stroke-width="0.95" fill="none"/>
<circle cx="47.1" cy="414.77" r="1.7" fill="#1a1a1a"/>
<line x1="67.4" y1="392.09" x2="67.4" y2="418.82" stroke="#1a1a1a" stroke-width="1"/>
<line x1="66.10000000000001" y1="392.09" x2="68.7" y2="392.09" stroke="#1a1a1a" stroke-width="1"/>
<circle cx="67.4" cy="418.82" r="1.7" fill="#1a1a1a"/>
<line x1="87.7" y1="410.72" x2="87.7" y2="422.87" stroke="#1a1a1a" stroke-width="1"/>
<line x1="86.4" y1="410.72" x2="89.0" y2="410.72" stroke="#1a1a1a" stroke-width="1"/>
<circle cx="87.7" cy="422.87" r="1.7" fill="#1a1a1a"/>
<circle cx="108" cy="423.67999999999995" r="1.7" fill="#1a1a1a"/>
<circle cx="128.3" cy="423.67999999999995" r="1.7" fill="#1a1a1a"/>
<circle cx="148.6" cy="429.34999999999997" r="1.7" fill="#1a1a1a"/>
<path d="M47.1,389.7 L67.4,401.0 L87.7,410.2 L108.0,423.7 L128.3,423.1 L148.6,429.3" stroke="#dd6a6a" stroke-width="0.95" fill="none"/>
<line x1="47.1" y1="379.4" x2="47.1" y2="389.65999999999997" stroke="#dd6a6a" stroke-width="1"/>
<line x1="45.800000000000004" y1="379.4" x2="48.4" y2="379.4" stroke="#dd6a6a" stroke-width="1"/>
<circle cx="47.1" cy="389.65999999999997" r="1.7" fill="#dd6a6a"/>
<circle cx="67.4" cy="401.0" r="1.7" fill="#dd6a6a"/>
<line x1="87.7" y1="401.2699999999999" x2="87.7" y2="410.17999999999995" stroke="#dd6a6a" stroke-width="1"/>
<line x1="86.4" y1="401.2699999999999" x2="89.0" y2="401.2699999999999" stroke="#dd6a6a" stroke-width="1"/>
<circle cx="87.7" cy="410.17999999999995" r="1.7" fill="#dd6a6a"/>
<circle cx="108" cy="423.67999999999995" r="1.7" fill="#dd6a6a"/>
<line x1="128.3" y1="417.46999999999997" x2="128.3" y2="423.14" stroke="#dd6a6a" stroke-width="1"/>
<line x1="127.00000000000001" y1="417.46999999999997" x2="129.60000000000002" y2="417.46999999999997" stroke="#dd6a6a" stroke-width="1"/>
<circle cx="128.3" cy="423.14" r="1.7" fill="#dd6a6a"/>
<line x1="148.6" y1="424.76" x2="148.6" y2="429.34999999999997" stroke="#dd6a6a" stroke-width="1"/>
<line x1="147.29999999999998" y1="424.76" x2="149.9" y2="424.76" stroke="#dd6a6a" stroke-width="1"/>
<circle cx="148.6" cy="429.34999999999997" r="1.7" fill="#dd6a6a"/>
<path d="M47.1,414.8 L67.4,414.5 L87.7,426.9 L108.0,432.3 L128.3,431.5 L148.6,436.1" stroke="#3444cc" stroke-width="0.95" fill="none"/>
<line x1="47.1" y1="405.85999999999996" x2="47.1" y2="414.77" stroke="#3444cc" stroke-width="1"/>
<line x1="45.800000000000004" y1="405.85999999999996" x2="48.4" y2="405.85999999999996" stroke="#3444cc" stroke-width="1"/>
<circle cx="47.1" cy="414.77" r="1.7" fill="#3444cc"/>
<line x1="67.4" y1="409.1" x2="67.4" y2="414.5" stroke="#3444cc" stroke-width="1"/>
<line x1="66.10000000000001" y1="409.1" x2="68.7" y2="409.1" stroke="#3444cc" stroke-width="1"/>
<line x1="67.4" y1="419.9" x2="67.4" y2="414.5" stroke="#3444cc" stroke-width="1"/>
<line x1="66.10000000000001" y1="419.9" x2="68.7" y2="419.9" stroke="#3444cc" stroke-width="1"/>
<circle cx="67.4" cy="414.5" r="1.7" fill="#3444cc"/>
<circle cx="87.7" cy="426.91999999999996" r="1.7" fill="#3444cc"/>
<line x1="108" y1="429.34999999999997" x2="108" y2="432.32" stroke="#3444cc" stroke-width="1"/>
<line x1="106.7" y1="429.34999999999997" x2="109.3" y2="429.34999999999997" stroke="#3444cc" stroke-width="1"/>
<line x1="108" y1="435.29" x2="108" y2="432.32" stroke="#3444cc" stroke-width="1"/>
<line x1="106.7" y1="435.29" x2="109.3" y2="435.29" stroke="#3444cc" stroke-width="1"/>
<circle cx="108" cy="432.32" r="1.7" fill="#3444cc"/>
<line x1="128.3" y1="428.53999999999996" x2="128.3" y2="431.51" stroke="#3444cc" stroke-width="1"/>
<line x1="127.00000000000001" y1="428.53999999999996" x2="129.60000000000002" y2="428.53999999999996" stroke="#3444cc" stroke-width="1"/>
<line x1="128.3" y1="434.48" x2="128.3" y2="431.51" stroke="#3444cc" stroke-width="1"/>
<line x1="127.00000000000001" y1="434.48" x2="129.60000000000002" y2="434.48" stroke="#3444cc" stroke-width="1"/>
<circle cx="128.3" cy="431.51" r="1.7" fill="#3444cc"/>
<line x1="148.6" y1="434.74999999999994" x2="148.6" y2="436.09999999999997" stroke="#3444cc" stroke-width="1"/>
<line x1="147.29999999999998" y1="434.74999999999994" x2="149.9" y2="434.74999999999994" stroke="#3444cc" stroke-width="1"/>
<line x1="148.6" y1="437.45" x2="148.6" y2="436.09999999999997" stroke="#3444cc" stroke-width="1"/>
<line x1="147.29999999999998" y1="437.45" x2="149.9" y2="437.45" stroke="#3444cc" stroke-width="1"/>
<circle cx="148.6" cy="436.09999999999997" r="1.7" fill="#3444cc"/>
<polygon points="47.20,373.10 47.73,374.37 49.10,374.48 48.06,375.38 48.38,376.72 47.20,376.00 46.02,376.72 46.34,375.38 45.30,374.48 46.67,374.37" fill="#000"/>
<polygon points="67.20,390.30 67.73,391.57 69.10,391.68 68.06,392.58 68.38,393.92 67.20,393.20 66.02,393.92 66.34,392.58 65.30,391.68 66.67,391.57" fill="#000"/>
<text x="97" y="471" font-size="9" font-weight="bold" text-anchor="middle" fill="#000">Weeks</text>
<text x="8.9" y="404" font-size="8.6" font-weight="bold" text-anchor="middle" fill="#000" transform="rotate(-90 8.9 404)" textLength="91" lengthAdjust="spacingAndGlyphs">CD45.2+ CD11b+ Cells</text>
<text x="19.5" y="405" font-size="8.4" font-weight="bold" text-anchor="middle" fill="#000" transform="rotate(-90 19.5 405)" textLength="53" lengthAdjust="spacingAndGlyphs">(% total cells)</text>
<line x1="95.4" y1="366.3" x2="103.5" y2="366.3" stroke="#1a1a1a" stroke-width="1"/>
<circle cx="99.5" cy="366.3" r="1.4" fill="#1a1a1a"/>
<text x="108.2" y="369.2" font-size="7.9" text-anchor="start" fill="#000" textLength="34" lengthAdjust="spacingAndGlyphs">WT Sham</text>
<line x1="95.4" y1="376.0" x2="103.5" y2="376.0" stroke="#dd6a6a" stroke-width="1"/>
<circle cx="99.5" cy="376.0" r="1.4" fill="#dd6a6a"/>
<text x="108.2" y="378.9" font-size="7.9" text-anchor="start" fill="#000" textLength="30.5" lengthAdjust="spacingAndGlyphs">WT OVX</text>
<line x1="95.4" y1="385.7" x2="103.5" y2="385.7" stroke="#8ccf62" stroke-width="1"/>
<circle cx="99.5" cy="385.7" r="1.4" fill="#8ccf62"/>
<text x="108.2" y="388.59999999999997" font-size="7.9" text-anchor="start" fill="#000" textLength="53.4" lengthAdjust="spacingAndGlyphs">CD40L-/- Sham</text>
<line x1="95.4" y1="395.40000000000003" x2="103.5" y2="395.40000000000003" stroke="#3444cc" stroke-width="1"/>
<circle cx="99.5" cy="395.40000000000003" r="1.4" fill="#3444cc"/>
<text x="108.2" y="398.3" font-size="7.9" text-anchor="start" fill="#000" textLength="50.5" lengthAdjust="spacingAndGlyphs">CD40L-/- OVX</text>
<text x="174.5" y="352" font-size="14" font-weight="bold" text-anchor="start" fill="#000">F</text>
<line x1="209.2" y1="366.7" x2="209.2" y2="446.4" stroke="#222" stroke-width="1.2"/>
<line x1="209.2" y1="446.4" x2="329" y2="446.4" stroke="#222" stroke-width="1.2"/>
<line x1="207.0" y1="446.4" x2="209.2" y2="446.4" stroke="#222" stroke-width="1.2"/>
<text x="206.2" y="449.59999999999997" font-size="8.8" font-weight="bold" text-anchor="end" fill="#000">0</text>
<line x1="207.0" y1="430.5" x2="209.2" y2="430.5" stroke="#222" stroke-width="1.2"/>
<text x="206.2" y="433.7" font-size="8.8" font-weight="bold" text-anchor="end" fill="#000">5</text>
<line x1="207.0" y1="414.59999999999997" x2="209.2" y2="414.59999999999997" stroke="#222" stroke-width="1.2"/>
<text x="206.2" y="417.79999999999995" font-size="8.8" font-weight="bold" text-anchor="end" fill="#000">10</text>
<line x1="207.0" y1="398.7" x2="209.2" y2="398.7" stroke="#222" stroke-width="1.2"/>
<text x="206.2" y="401.9" font-size="8.8" font-weight="bold" text-anchor="end" fill="#000">15</text>
<line x1="207.0" y1="382.79999999999995" x2="209.2" y2="382.79999999999995" stroke="#222" stroke-width="1.2"/>
<text x="206.2" y="385.99999999999994" font-size="8.8" font-weight="bold" text-anchor="end" fill="#000">20</text>
<line x1="207.0" y1="366.9" x2="209.2" y2="366.9" stroke="#222" stroke-width="1.2"/>
<text x="206.2" y="370.09999999999997" font-size="8.8" font-weight="bold" text-anchor="end" fill="#000">25</text>
<line x1="219.1" y1="446.4" x2="219.1" y2="448.59999999999997" stroke="#222" stroke-width="1.2"/>
<text x="219.4" y="457.4" font-size="8.8" font-weight="bold" text-anchor="middle" fill="#000">2</text>
<line x1="239.1" y1="446.4" x2="239.1" y2="448.59999999999997" stroke="#222" stroke-width="1.2"/>
<text x="239.4" y="457.4" font-size="8.8" font-weight="bold" text-anchor="middle" fill="#000">4</text>
<line x1="259.1" y1="446.4" x2="259.1" y2="448.59999999999997" stroke="#222" stroke-width="1.2"/>
<text x="259.40000000000003" y="457.4" font-size="8.8" font-weight="bold" text-anchor="middle" fill="#000">8</text>
<line x1="279.2" y1="446.4" x2="279.2" y2="448.59999999999997" stroke="#222" stroke-width="1.2"/>
<text x="280.2" y="457.4" font-size="8.8" font-weight="bold" text-anchor="middle" fill="#000">12</text>
<line x1="299.4" y1="446.4" x2="299.4" y2="448.59999999999997" stroke="#222" stroke-width="1.2"/>
<text x="300.4" y="457.4" font-size="8.8" font-weight="bold" text-anchor="middle" fill="#000">24</text>
<line x1="319.6" y1="446.4" x2="319.6" y2="448.59999999999997" stroke="#222" stroke-width="1.2"/>
<text x="320.6" y="457.4" font-size="8.8" font-weight="bold" text-anchor="middle" fill="#000">36</text>
<path d="M219.1,393.3 L239.1,400.6 L259.1,432.7 L279.2,432.7 L299.4,432.1 L319.6,433.4" stroke="#8ccf62" stroke-width="0.95" fill="none"/>
<line x1="219.1" y1="383.118" x2="219.1" y2="393.294" stroke="#8ccf62" stroke-width="1"/>
<line x1="217.79999999999998" y1="383.118" x2="220.4" y2="383.118" stroke="#8ccf62" stroke-width="1"/>
<circle cx="219.1" cy="393.294" r="1.7" fill="#8ccf62"/>
<circle cx="239.1" cy="400.60799999999995" r="1.7" fill="#8ccf62"/>
<circle cx="259.1" cy="432.726" r="1.7" fill="#8ccf62"/>
<circle cx="279.2" cy="432.726" r="1.7" fill="#8ccf62"/>
<circle cx="299.4" cy="432.09" r="1.7" fill="#8ccf62"/>
<circle cx="319.6" cy="433.36199999999997" r="1.7" fill="#8ccf62"/>
<path d="M219.1,412.1 L239.1,414.9 L259.1,419.1 L279.2,427.3 L299.4,427.3 L319.6,431.5" stroke="#1a1a1a" stroke-width="0.95" fill="none"/>
<line x1="219.1" y1="409.512" x2="219.1" y2="412.056" stroke="#1a1a1a" stroke-width="1"/>
<line x1="217.79999999999998" y1="409.512" x2="220.4" y2="409.512" stroke="#1a1a1a" stroke-width="1"/>
<circle cx="219.1" cy="412.056" r="1.7" fill="#1a1a1a"/>
<line x1="239.1" y1="413.328" x2="239.1" y2="414.91799999999995" stroke="#1a1a1a" stroke-width="1"/>
<line x1="237.79999999999998" y1="413.328" x2="240.4" y2="413.328" stroke="#1a1a1a" stroke-width="1"/>
<circle cx="239.1" cy="414.91799999999995" r="1.7" fill="#1a1a1a"/>
<circle cx="259.1" cy="419.05199999999996" r="1.7" fill="#1a1a1a"/>
<circle cx="279.2" cy="427.32" r="1.7" fill="#1a1a1a"/>
<line x1="299.4" y1="425.73" x2="299.4" y2="427.32" stroke="#1a1a1a" stroke-width="1"/>
<line x1="298.09999999999997" y1="425.73" x2="300.7" y2="425.73" stroke="#1a1a1a" stroke-width="1"/>
<circle cx="299.4" cy="427.32" r="1.7" fill="#1a1a1a"/>
<circle cx="319.6" cy="431.45399999999995" r="1.7" fill="#1a1a1a"/>
<path d="M219.1,384.1 L239.1,397.7 L259.1,407.6 L279.2,425.7 L299.4,428.3 L319.6,432.7" stroke="#dd6a6a" stroke-width="0.95" fill="none"/>
<line x1="219.1" y1="378.66599999999994" x2="219.1" y2="384.07199999999995" stroke="#dd6a6a" stroke-width="1"/>
<line x1="217.79999999999998" y1="378.66599999999994" x2="220.4" y2="378.66599999999994" stroke="#dd6a6a" stroke-width="1"/>
<circle cx="219.1" cy="384.07199999999995" r="1.7" fill="#dd6a6a"/>
<circle cx="239.1" cy="397.746" r="1.7" fill="#dd6a6a"/>
<circle cx="259.1" cy="407.604" r="1.7" fill="#dd6a6a"/>
<circle cx="279.2" cy="425.72999999999996" r="1.7" fill="#dd6a6a"/>
<circle cx="299.4" cy="428.274" r="1.7" fill="#dd6a6a"/>
<circle cx="319.6" cy="432.726" r="1.7" fill="#dd6a6a"/>
<path d="M219.1,400.3 L239.1,397.4 L259.1,432.7 L279.2,432.7 L299.4,432.1 L319.6,434.0" stroke="#3444cc" stroke-width="0.95" fill="none"/>
<circle cx="219.1" cy="400.28999999999996" r="1.7" fill="#3444cc"/>
<line x1="239.1" y1="388.206" x2="239.1" y2="397.428" stroke="#3444cc" stroke-width="1"/>
<line x1="237.79999999999998" y1="388.206" x2="240.4" y2="388.206" stroke="#3444cc" stroke-width="1"/>
<circle cx="239.1" cy="397.428" r="1.7" fill="#3444cc"/>
<circle cx="259.1" cy="432.726" r="1.7" fill="#3444cc"/>
<circle cx="279.2" cy="432.726" r="1.7" fill="#3444cc"/>
<circle cx="299.4" cy="432.09" r="1.7" fill="#3444cc"/>
<circle cx="319.6" cy="433.998" r="1.7" fill="#3444cc"/>
<polygon points="219.10,373.90 219.63,375.17 221.00,375.28 219.96,376.18 220.28,377.52 219.10,376.80 217.92,377.52 218.24,376.18 217.20,375.28 218.57,375.17" fill="#000"/>
<polygon points="238.80,384.30 239.33,385.57 240.70,385.68 239.66,386.58 239.98,387.92 238.80,387.20 237.62,387.92 237.94,386.58 236.90,385.68 238.27,385.57" fill="#000"/>
<text x="270" y="471" font-size="9" font-weight="bold" text-anchor="middle" fill="#000">Weeks</text>
<text x="180.6" y="403" font-size="8.3" font-weight="bold" text-anchor="middle" fill="#000" transform="rotate(-90 180.6 403)" textLength="82.6" lengthAdjust="spacingAndGlyphs">CD45.2+ GR-1+ Cells</text>
<text x="192.5" y="404.7" font-size="8.3" font-weight="bold" text-anchor="middle" fill="#000" transform="rotate(-90 192.5 404.7)" textLength="53.7" lengthAdjust="spacingAndGlyphs">(% total cells)</text>
<line x1="269.7" y1="372.0" x2="278.2" y2="372.0" stroke="#1a1a1a" stroke-width="1"/>
<circle cx="274" cy="372.0" r="1.4" fill="#1a1a1a"/>
<text x="283.2" y="374.9" font-size="7.9" text-anchor="start" fill="#000" textLength="33.4" lengthAdjust="spacingAndGlyphs">WT Sham</text>
<line x1="269.7" y1="381.05" x2="278.2" y2="381.05" stroke="#dd6a6a" stroke-width="1"/>
<circle cx="274" cy="381.05" r="1.4" fill="#dd6a6a"/>
<text x="283.2" y="383.95" font-size="7.9" text-anchor="start" fill="#000" textLength="30.3" lengthAdjust="spacingAndGlyphs">WT OVX</text>
<line x1="269.7" y1="390.1" x2="278.2" y2="390.1" stroke="#8ccf62" stroke-width="1"/>
<circle cx="274" cy="390.1" r="1.4" fill="#8ccf62"/>
<text x="283.2" y="393.0" font-size="7.9" text-anchor="start" fill="#000" textLength="52.6" lengthAdjust="spacingAndGlyphs">CD40L-/- Sham</text>
<line x1="269.7" y1="399.15" x2="278.2" y2="399.15" stroke="#3444cc" stroke-width="1"/>
<circle cx="274" cy="399.15" r="1.4" fill="#3444cc"/>
<text x="283.2" y="402.04999999999995" font-size="7.9" text-anchor="start" fill="#000" textLength="49.8" lengthAdjust="spacingAndGlyphs">CD40L-/- OVX</text>
<text x="348.5" y="352" font-size="14" font-weight="bold" text-anchor="start" fill="#000">G</text>
<line x1="385.2" y1="366.8" x2="385.2" y2="445.6" stroke="#222" stroke-width="1.2"/>
<line x1="385.2" y1="445.6" x2="504.3" y2="445.6" stroke="#222" stroke-width="1.2"/>
<line x1="383.0" y1="445.6" x2="385.2" y2="445.6" stroke="#222" stroke-width="1.2"/>
<text x="382.2" y="448.8" font-size="8.8" font-weight="bold" text-anchor="end" fill="#000">0</text>
<line x1="383.0" y1="425.90000000000003" x2="385.2" y2="425.90000000000003" stroke="#222" stroke-width="1.2"/>
<text x="382.2" y="429.1" font-size="8.8" font-weight="bold" text-anchor="end" fill="#000">10</text>
<line x1="383.0" y1="406.20000000000005" x2="385.2" y2="406.20000000000005" stroke="#222" stroke-width="1.2"/>
<text x="382.2" y="409.40000000000003" font-size="8.8" font-weight="bold" text-anchor="end" fill="#000">20</text>
<line x1="383.0" y1="386.5" x2="385.2" y2="386.5" stroke="#222" stroke-width="1.2"/>
<text x="382.2" y="389.7" font-size="8.8" font-weight="bold" text-anchor="end" fill="#000">30</text>
<line x1="383.0" y1="366.8" x2="385.2" y2="366.8" stroke="#222" stroke-width="1.2"/>
<text x="382.2" y="370.0" font-size="8.8" font-weight="bold" text-anchor="end" fill="#000">40</text>
<line x1="395.2" y1="445.6" x2="395.2" y2="447.8" stroke="#222" stroke-width="1.2"/>
<text x="395.5" y="456.6" font-size="8.8" font-weight="bold" text-anchor="middle" fill="#000">2</text>
<line x1="415.1" y1="445.6" x2="415.1" y2="447.8" stroke="#222" stroke-width="1.2"/>
<text x="415.40000000000003" y="456.6" font-size="8.8" font-weight="bold" text-anchor="middle" fill="#000">4</text>
<line x1="435" y1="445.6" x2="435" y2="447.8" stroke="#222" stroke-width="1.2"/>
<text x="435.3" y="456.6" font-size="8.8" font-weight="bold" text-anchor="middle" fill="#000">8</text>
<line x1="454.9" y1="445.6" x2="454.9" y2="447.8" stroke="#222" stroke-width="1.2"/>
<text x="455.9" y="456.6" font-size="8.8" font-weight="bold" text-anchor="middle" fill="#000">12</text>
<line x1="474.8" y1="445.6" x2="474.8" y2="447.8" stroke="#222" stroke-width="1.2"/>
<text x="475.8" y="456.6" font-size="8.8" font-weight="bold" text-anchor="middle" fill="#000">24</text>
<line x1="494.9" y1="445.6" x2="494.9" y2="447.8" stroke="#222" stroke-width="1.2"/>
<text x="495.9" y="456.6" font-size="8.8" font-weight="bold" text-anchor="middle" fill="#000">36</text>
<path d="M395.2,426.9 L415.1,420.0 L435.0,401.3 L454.9,397.9 L474.8,407.4 L494.9,409.2" stroke="#8ccf62" stroke-width="0.95" fill="none"/>
<circle cx="395.2" cy="426.88500000000005" r="1.7" fill="#8ccf62"/>
<circle cx="415.1" cy="419.99" r="1.7" fill="#8ccf62"/>
<circle cx="435" cy="401.27500000000003" r="1.7" fill="#8ccf62"/>
<circle cx="454.9" cy="397.92600000000004" r="1.7" fill="#8ccf62"/>
<circle cx="474.8" cy="407.382" r="1.7" fill="#8ccf62"/>
<line x1="494.9" y1="407.185" x2="494.9" y2="409.15500000000003" stroke="#8ccf62" stroke-width="1"/>
<line x1="493.59999999999997" y1="407.185" x2="496.2" y2="407.185" stroke="#8ccf62" stroke-width="1"/>
<circle cx="494.9" cy="409.15500000000003" r="1.7" fill="#8ccf62"/>
<path d="M395.2,427.5 L415.1,422.4 L435.0,405.4 L454.9,384.5 L474.8,391.2 L494.9,395.8" stroke="#1a1a1a" stroke-width="0.95" fill="none"/>
<circle cx="395.2" cy="427.476" r="1.7" fill="#1a1a1a"/>
<circle cx="415.1" cy="422.35400000000004" r="1.7" fill="#1a1a1a"/>
<circle cx="435" cy="405.41200000000003" r="1.7" fill="#1a1a1a"/>
<circle cx="454.9" cy="384.53000000000003" r="1.7" fill="#1a1a1a"/>
<circle cx="474.8" cy="391.228" r="1.7" fill="#1a1a1a"/>
<circle cx="494.9" cy="395.759" r="1.7" fill="#1a1a1a"/>
<path d="M395.2,413.7 L415.1,394.6 L435.0,383.7 L454.9,378.2 L474.8,388.3 L494.9,400.7" stroke="#dd6a6a" stroke-width="0.95" fill="none"/>
<circle cx="395.2" cy="413.68600000000004" r="1.7" fill="#dd6a6a"/>
<circle cx="415.1" cy="394.577" r="1.7" fill="#dd6a6a"/>
<circle cx="435" cy="383.742" r="1.7" fill="#dd6a6a"/>
<circle cx="454.9" cy="378.226" r="1.7" fill="#dd6a6a"/>
<line x1="474.8" y1="386.303" x2="474.8" y2="388.273" stroke="#dd6a6a" stroke-width="1"/>
<line x1="473.5" y1="386.303" x2="476.1" y2="386.303" stroke="#dd6a6a" stroke-width="1"/>
<circle cx="474.8" cy="388.273" r="1.7" fill="#dd6a6a"/>
<circle cx="494.9" cy="400.684" r="1.7" fill="#dd6a6a"/>
<path d="M395.2,428.1 L415.1,417.4 L435.0,396.9 L454.9,396.7 L474.8,404.2 L494.9,413.1" stroke="#3444cc" stroke-width="0.95" fill="none"/>
<line x1="395.2" y1="425.112" x2="395.2" y2="428.067" stroke="#3444cc" stroke-width="1"/>
<line x1="393.9" y1="425.112" x2="396.5" y2="425.112" stroke="#3444cc" stroke-width="1"/>
<circle cx="395.2" cy="428.067" r="1.7" fill="#3444cc"/>
<circle cx="415.1" cy="417.42900000000003" r="1.7" fill="#3444cc"/>
<line x1="435" y1="393.00100000000003" x2="435" y2="396.94100000000003" stroke="#3444cc" stroke-width="1"/>
<line x1="433.7" y1="393.00100000000003" x2="436.3" y2="393.00100000000003" stroke="#3444cc" stroke-width="1"/>
<circle cx="435" cy="396.94100000000003" r="1.7" fill="#3444cc"/>
<line x1="454.9" y1="394.774" x2="454.9" y2="396.744" stroke="#3444cc" stroke-width="1"/>
<line x1="453.59999999999997" y1="394.774" x2="456.2" y2="394.774" stroke="#3444cc" stroke-width="1"/>
<circle cx="454.9" cy="396.744" r="1.7" fill="#3444cc"/>
<line x1="474.8" y1="402.26" x2="474.8" y2="404.23" stroke="#3444cc" stroke-width="1"/>
<line x1="473.5" y1="402.26" x2="476.1" y2="402.26" stroke="#3444cc" stroke-width="1"/>
<circle cx="474.8" cy="404.23" r="1.7" fill="#3444cc"/>
<circle cx="494.9" cy="413.095" r="1.7" fill="#3444cc"/>
<polygon points="395.30,406.60 395.83,407.87 397.20,407.98 396.16,408.88 396.48,410.22 395.30,409.50 394.12,410.22 394.44,408.88 393.40,407.98 394.77,407.87" fill="#000"/>
<polygon points="415.00,388.30 415.53,389.57 416.90,389.68 415.86,390.58 416.18,391.92 415.00,391.20 413.82,391.92 414.14,390.58 413.10,389.68 414.47,389.57" fill="#000"/>
<polygon points="434.80,376.30 435.33,377.57 436.70,377.68 435.66,378.58 435.98,379.92 434.80,379.20 433.62,379.92 433.94,378.58 432.90,377.68 434.27,377.57" fill="#000"/>
<text x="444.4" y="469.5" font-size="9" font-weight="bold" text-anchor="middle" fill="#000">Weeks</text>
<text x="357.8" y="405" font-size="8.2" font-weight="bold" text-anchor="middle" fill="#000" transform="rotate(-90 357.8 405)" textLength="85.3" lengthAdjust="spacingAndGlyphs">CD45.2+ B220+ Cells</text>
<text x="367.8" y="404" font-size="8.35" font-weight="bold" text-anchor="middle" fill="#000" transform="rotate(-90 367.8 404)" textLength="53.8" lengthAdjust="spacingAndGlyphs">(% total cells)</text>
<line x1="388" y1="344.9" x2="396.2" y2="344.9" stroke="#1a1a1a" stroke-width="1"/>
<circle cx="392.1" cy="344.9" r="1.4" fill="#1a1a1a"/>
<text x="401.5" y="348.0" font-size="8.6" text-anchor="start" fill="#000" textLength="38.3" lengthAdjust="spacingAndGlyphs">WT Sham</text>
<line x1="388" y1="356.2" x2="396.2" y2="356.2" stroke="#dd6a6a" stroke-width="1"/>
<circle cx="392.1" cy="356.2" r="1.4" fill="#dd6a6a"/>
<text x="401.5" y="359.3" font-size="8.6" text-anchor="start" fill="#000" textLength="33.7" lengthAdjust="spacingAndGlyphs">WT OVX</text>
<line x1="446" y1="343.5" x2="454.2" y2="343.5" stroke="#8ccf62" stroke-width="1"/>
<circle cx="450.1" cy="343.5" r="1.4" fill="#8ccf62"/>
<text x="459.4" y="346.6" font-size="8.6" text-anchor="start" fill="#000" textLength="56.6" lengthAdjust="spacingAndGlyphs">CD40L-/- Sham</text>
<line x1="446" y1="355.7" x2="454.2" y2="355.7" stroke="#3444cc" stroke-width="1"/>
<circle cx="450.1" cy="355.7" r="1.4" fill="#3444cc"/>
<text x="459.4" y="358.8" font-size="8.6" text-anchor="start" fill="#000" textLength="52.6" lengthAdjust="spacingAndGlyphs">CD40L-/- OVX</text>
<text x="50.8" y="497.7" font-size="14" font-weight="bold" text-anchor="start" fill="#000">H</text>
<text x="69.3" y="494.3" font-size="7.8" text-anchor="start" fill="#000" textLength="95.2" lengthAdjust="spacingAndGlyphs">Donor mice: Intact WT mice</text>
<text x="69.3" y="504.9" font-size="7.8" text-anchor="start" fill="#000" textLength="141.4" lengthAdjust="spacingAndGlyphs">Recipient mice: Sham and OVX WT mice</text>
<line x1="93.1" y1="513.0" x2="93.1" y2="588.6" stroke="#6a6a6a" stroke-width="1.2"/>
<line x1="93.1" y1="588.6" x2="200.38" y2="588.6" stroke="#6a6a6a" stroke-width="1.2"/>
<line x1="91.1" y1="588.6" x2="93.1" y2="588.6" stroke="#6a6a6a" stroke-width="1.2"/>
<text x="90.69999999999999" y="591.6" font-size="7.8" font-weight="bold" text-anchor="end" fill="#000">0</text>
<line x1="91.1" y1="573.48" x2="93.1" y2="573.48" stroke="#6a6a6a" stroke-width="1.2"/>
<text x="90.69999999999999" y="576.48" font-size="7.8" font-weight="bold" text-anchor="end" fill="#000">20</text>
<line x1="91.1" y1="558.36" x2="93.1" y2="558.36" stroke="#6a6a6a" stroke-width="1.2"/>
<text x="90.69999999999999" y="561.36" font-size="7.8" font-weight="bold" text-anchor="end" fill="#000">40</text>
<line x1="91.1" y1="543.24" x2="93.1" y2="543.24" stroke="#6a6a6a" stroke-width="1.2"/>
<text x="90.69999999999999" y="546.24" font-size="7.8" font-weight="bold" text-anchor="end" fill="#000">60</text>
<line x1="91.1" y1="528.12" x2="93.1" y2="528.12" stroke="#6a6a6a" stroke-width="1.2"/>
<text x="90.69999999999999" y="531.12" font-size="7.8" font-weight="bold" text-anchor="end" fill="#000">80</text>
<line x1="91.1" y1="513.0" x2="93.1" y2="513.0" stroke="#6a6a6a" stroke-width="1.2"/>
<text x="90.69999999999999" y="516.0" font-size="7.8" font-weight="bold" text-anchor="end" fill="#000">100</text>
<line x1="94.0" y1="588.6" x2="94.0" y2="590.6" stroke="#6a6a6a" stroke-width="1.2"/>
<text x="94.0" y="599.1" font-size="7.8" font-weight="bold" text-anchor="middle" fill="#000">0</text>
<line x1="120.47" y1="588.6" x2="120.47" y2="590.6" stroke="#6a6a6a" stroke-width="1.2"/>
<text x="120.47" y="599.1" font-size="7.8" font-weight="bold" text-anchor="middle" fill="#000">7</text>
<line x1="146.94" y1="588.6" x2="146.94" y2="590.6" stroke="#6a6a6a" stroke-width="1.2"/>
<text x="146.94" y="599.1" font-size="7.8" font-weight="bold" text-anchor="middle" fill="#000">14</text>
<line x1="173.41" y1="588.6" x2="173.41" y2="590.6" stroke="#6a6a6a" stroke-width="1.2"/>
<text x="173.41" y="599.1" font-size="7.8" font-weight="bold" text-anchor="middle" fill="#000">21</text>
<line x1="199.88" y1="588.6" x2="199.88" y2="590.6" stroke="#6a6a6a" stroke-width="1.2"/>
<text x="199.88" y="599.1" font-size="7.8" font-weight="bold" text-anchor="middle" fill="#000">28</text>
<text x="147.24" y="611.9" font-size="8.2" font-weight="bold" text-anchor="middle" fill="#000" textLength="42.8" lengthAdjust="spacingAndGlyphs">Time (Days)</text>
<text x="74" y="549.5" font-size="8.1" font-weight="bold" text-anchor="middle" fill="#000" transform="rotate(-90 74 549.5)" textLength="72" lengthAdjust="spacingAndGlyphs">Surviving mice (%)</text>
<path d="M93.1,513.0 H120.5 V520.6 H124.5 V535.7 H132.3 V550.8 H200.9 m0,0.5 v-2.3" stroke="#333" stroke-width="1.15" fill="none"/>
<path d="M93.1,513.0 H200.9 m0,0.5 v-2.3" stroke="#d98888" stroke-width="1.15" fill="none" stroke-opacity="0.85"/>
<line x1="96.7" y1="570.2" x2="103.7" y2="570.2" stroke="#d98888" stroke-width="1.2"/>
<line x1="100.2" y1="568.9000000000001" x2="100.2" y2="571.5" stroke="#d98888" stroke-width="0.9"/>
<text x="108.3" y="573.1" font-size="7.8" text-anchor="start" fill="#000">OVX</text>
<line x1="96.7" y1="580.8000000000001" x2="103.7" y2="580.8000000000001" stroke="#333" stroke-width="1.2"/>
<line x1="100.2" y1="579.5000000000001" x2="100.2" y2="582.1" stroke="#333" stroke-width="0.9"/>
<text x="108.3" y="583.7" font-size="7.8" text-anchor="start" fill="#000">Sham</text>
<text x="164.8" y="522.9" font-size="8.4" text-anchor="start" fill="#000" textLength="24.2" lengthAdjust="spacingAndGlyphs">p&lt;0.05</text>
<text x="51.3" y="625.6" font-size="14" font-weight="bold" text-anchor="start" fill="#000">I</text>
<text x="67.2" y="622.8" font-size="8.1" text-anchor="start" fill="#000" textLength="137" lengthAdjust="spacingAndGlyphs">Donor mice: Sham and OVX WT mice</text>
<text x="67.2" y="634.3" font-size="8.1" text-anchor="start" fill="#000" textLength="111.6" lengthAdjust="spacingAndGlyphs">Recipient mice: Intact WT mice</text>
<line x1="93.3" y1="641.6" x2="93.3" y2="717.2" stroke="#6a6a6a" stroke-width="1.2"/>
<line x1="93.3" y1="717.2" x2="207.5" y2="717.2" stroke="#6a6a6a" stroke-width="1.2"/>
<line x1="91.3" y1="717.2" x2="93.3" y2="717.2" stroke="#6a6a6a" stroke-width="1.2"/>
<text x="90.89999999999999" y="720.2" font-size="7.8" font-weight="bold" text-anchor="end" fill="#000">0</text>
<line x1="91.3" y1="702.08" x2="93.3" y2="702.08" stroke="#6a6a6a" stroke-width="1.2"/>
<text x="90.89999999999999" y="705.08" font-size="7.8" font-weight="bold" text-anchor="end" fill="#000">20</text>
<line x1="91.3" y1="686.96" x2="93.3" y2="686.96" stroke="#6a6a6a" stroke-width="1.2"/>
<text x="90.89999999999999" y="689.96" font-size="7.8" font-weight="bold" text-anchor="end" fill="#000">40</text>
<line x1="91.3" y1="671.84" x2="93.3" y2="671.84" stroke="#6a6a6a" stroke-width="1.2"/>
<text x="90.89999999999999" y="674.84" font-size="7.8" font-weight="bold" text-anchor="end" fill="#000">60</text>
<line x1="91.3" y1="656.72" x2="93.3" y2="656.72" stroke="#6a6a6a" stroke-width="1.2"/>
<text x="90.89999999999999" y="659.72" font-size="7.8" font-weight="bold" text-anchor="end" fill="#000">80</text>
<line x1="91.3" y1="641.6" x2="93.3" y2="641.6" stroke="#6a6a6a" stroke-width="1.2"/>
<text x="90.89999999999999" y="644.6" font-size="7.8" font-weight="bold" text-anchor="end" fill="#000">100</text>
<line x1="94.2" y1="717.2" x2="94.2" y2="719.2" stroke="#6a6a6a" stroke-width="1.2"/>
<text x="94.2" y="727.7" font-size="7.8" font-weight="bold" text-anchor="middle" fill="#000">0</text>
<line x1="122.4" y1="717.2" x2="122.4" y2="719.2" stroke="#6a6a6a" stroke-width="1.2"/>
<text x="122.4" y="727.7" font-size="7.8" font-weight="bold" text-anchor="middle" fill="#000">7</text>
<line x1="150.6" y1="717.2" x2="150.6" y2="719.2" stroke="#6a6a6a" stroke-width="1.2"/>
<text x="150.6" y="727.7" font-size="7.8" font-weight="bold" text-anchor="middle" fill="#000">14</text>
<line x1="178.8" y1="717.2" x2="178.8" y2="719.2" stroke="#6a6a6a" stroke-width="1.2"/>
<text x="178.8" y="727.7" font-size="7.8" font-weight="bold" text-anchor="middle" fill="#000">21</text>
<line x1="207.0" y1="717.2" x2="207.0" y2="719.2" stroke="#6a6a6a" stroke-width="1.2"/>
<text x="207.0" y="727.7" font-size="7.8" font-weight="bold" text-anchor="middle" fill="#000">28</text>
<text x="150.9" y="740.5" font-size="8.2" font-weight="bold" text-anchor="middle" fill="#000" textLength="42.8" lengthAdjust="spacingAndGlyphs">Time (Days)</text>
<text x="74" y="677.6" font-size="8.1" font-weight="bold" text-anchor="middle" fill="#000" transform="rotate(-90 74 677.6)" textLength="72" lengthAdjust="spacingAndGlyphs">Surviving mice (%)</text>
<path d="M93.3,641.6 H122.0 V664.3 H126.3 V679.4 H130.2 V687.0 H208.0 m0,0.5 v-2.3" stroke="#333" stroke-width="1.15" fill="none"/>
<path d="M93.3,641.6 H208.0 m0,0.5 v-2.3" stroke="#d98888" stroke-width="1.15" fill="none" stroke-opacity="0.85"/>
<line x1="98.3" y1="696.5" x2="105.3" y2="696.5" stroke="#d98888" stroke-width="1.2"/>
<line x1="101.8" y1="695.2" x2="101.8" y2="697.8" stroke="#d98888" stroke-width="0.9"/>
<text x="110" y="699.4" font-size="7.8" text-anchor="start" fill="#000">OVX</text>
<line x1="98.3" y1="706.7" x2="105.3" y2="706.7" stroke="#333" stroke-width="1.2"/>
<line x1="101.8" y1="705.4000000000001" x2="101.8" y2="708.0" stroke="#333" stroke-width="0.9"/>
<text x="110" y="709.6" font-size="7.8" text-anchor="start" fill="#000">Sham</text>
<text x="172.7" y="651.6" font-size="8.4" text-anchor="start" fill="#000" textLength="24.5" lengthAdjust="spacingAndGlyphs">p&lt;0.01</text>
<text x="274" y="497.5" font-size="14" font-weight="bold" text-anchor="start" fill="#000">J</text>
<text x="291.3" y="493.4" font-size="8" text-anchor="start" fill="#000" textLength="118.3" lengthAdjust="spacingAndGlyphs">Donor mice: Intact CD40L-/- mice</text>
<text x="291.3" y="503.5" font-size="8" text-anchor="start" fill="#000" textLength="146.4" lengthAdjust="spacingAndGlyphs">Recipient mice: Sham and OVX WT mice</text>
<line x1="316.5" y1="511.8" x2="316.5" y2="586.1" stroke="#6a6a6a" stroke-width="1.2"/>
<line x1="316.5" y1="586.1" x2="427.6" y2="586.1" stroke="#6a6a6a" stroke-width="1.2"/>
<line x1="314.5" y1="586.1" x2="316.5" y2="586.1" stroke="#6a6a6a" stroke-width="1.2"/>
<text x="314.1" y="589.1" font-size="7.8" font-weight="bold" text-anchor="end" fill="#000">0</text>
<line x1="314.5" y1="571.24" x2="316.5" y2="571.24" stroke="#6a6a6a" stroke-width="1.2"/>
<text x="314.1" y="574.24" font-size="7.8" font-weight="bold" text-anchor="end" fill="#000">20</text>
<line x1="314.5" y1="556.38" x2="316.5" y2="556.38" stroke="#6a6a6a" stroke-width="1.2"/>
<text x="314.1" y="559.38" font-size="7.8" font-weight="bold" text-anchor="end" fill="#000">40</text>
<line x1="314.5" y1="541.52" x2="316.5" y2="541.52" stroke="#6a6a6a" stroke-width="1.2"/>
<text x="314.1" y="544.52" font-size="7.8" font-weight="bold" text-anchor="end" fill="#000">60</text>
<line x1="314.5" y1="526.6600000000001" x2="316.5" y2="526.6600000000001" stroke="#6a6a6a" stroke-width="1.2"/>
<text x="314.1" y="529.6600000000001" font-size="7.8" font-weight="bold" text-anchor="end" fill="#000">80</text>
<line x1="314.5" y1="511.8" x2="316.5" y2="511.8" stroke="#6a6a6a" stroke-width="1.2"/>
<text x="314.1" y="514.8" font-size="7.8" font-weight="bold" text-anchor="end" fill="#000">100</text>
<line x1="317.5" y1="586.1" x2="317.5" y2="588.1" stroke="#6a6a6a" stroke-width="1.2"/>
<text x="317.5" y="596.6" font-size="7.8" font-weight="bold" text-anchor="middle" fill="#000">0</text>
<line x1="344.9" y1="586.1" x2="344.9" y2="588.1" stroke="#6a6a6a" stroke-width="1.2"/>
<text x="344.9" y="596.6" font-size="7.8" font-weight="bold" text-anchor="middle" fill="#000">7</text>
<line x1="372.3" y1="586.1" x2="372.3" y2="588.1" stroke="#6a6a6a" stroke-width="1.2"/>
<text x="372.3" y="596.6" font-size="7.8" font-weight="bold" text-anchor="middle" fill="#000">14</text>
<line x1="399.7" y1="586.1" x2="399.7" y2="588.1" stroke="#6a6a6a" stroke-width="1.2"/>
<text x="399.7" y="596.6" font-size="7.8" font-weight="bold" text-anchor="middle" fill="#000">21</text>
<line x1="427.1" y1="586.1" x2="427.1" y2="588.1" stroke="#6a6a6a" stroke-width="1.2"/>
<text x="427.1" y="596.6" font-size="7.8" font-weight="bold" text-anchor="middle" fill="#000">28</text>
<text x="372.6" y="609.4" font-size="8.2" font-weight="bold" text-anchor="middle" fill="#000" textLength="42.8" lengthAdjust="spacingAndGlyphs">Time (Days)</text>
<text x="297.3" y="547.4" font-size="8.1" font-weight="bold" text-anchor="middle" fill="#000" transform="rotate(-90 297.3 547.4)" textLength="70" lengthAdjust="spacingAndGlyphs">Surviving mice (%)</text>
<path d="M316.5,511.8 H344.0 V519.2 H348.5 V534.1 H352.5 V549.0 H364.2 V556.4 H428.1 m0,0.5 v-2.3" stroke="#333" stroke-width="1.15" fill="none"/>
<path d="M316.5,511.8 H348.5 V519.2 H352.5 V534.1 H356.5 V556.4 H428.1 m0,0.5 v-2.3" stroke="#cc3838" stroke-width="1.15" fill="none" stroke-opacity="0.85"/>
<line x1="320" y1="570.4" x2="328" y2="570.4" stroke="#d84848" stroke-width="1.2"/>
<line x1="324.0" y1="569.1" x2="324.0" y2="571.6999999999999" stroke="#d84848" stroke-width="0.9"/>
<text x="332.1" y="573.3" font-size="8.4" text-anchor="start" fill="#000">OVX</text>
<line x1="320" y1="579.0" x2="328" y2="579.0" stroke="#333" stroke-width="1.2"/>
<line x1="324.0" y1="577.7" x2="324.0" y2="580.3" stroke="#333" stroke-width="0.9"/>
<text x="332.1" y="581.9" font-size="8.4" text-anchor="start" fill="#000">Sham</text>
<text x="274" y="625.7" font-size="14" font-weight="bold" text-anchor="start" fill="#000">K</text>
<text x="296.3" y="626.2" font-size="7.9" text-anchor="start" fill="#000" textLength="144.5" lengthAdjust="spacingAndGlyphs">Donor mice: Sham and OVX CD40L-/- mice</text>
<text x="296.3" y="636.9" font-size="7.9" text-anchor="start" fill="#000" textLength="104.2" lengthAdjust="spacingAndGlyphs">Recipient mice: Intact WT mice</text>
<line x1="318.9" y1="643.9" x2="318.9" y2="718.6" stroke="#6a6a6a" stroke-width="1.2"/>
<line x1="318.9" y1="718.6" x2="425.6" y2="718.6" stroke="#6a6a6a" stroke-width="1.2"/>
<line x1="316.9" y1="718.6" x2="318.9" y2="718.6" stroke="#6a6a6a" stroke-width="1.2"/>
<text x="317.29999999999995" y="721.6" font-size="7.8" font-weight="bold" text-anchor="end" fill="#000">0</text>
<line x1="316.9" y1="703.66" x2="318.9" y2="703.66" stroke="#6a6a6a" stroke-width="1.2"/>
<text x="317.29999999999995" y="706.66" font-size="7.8" font-weight="bold" text-anchor="end" fill="#000">20</text>
<line x1="316.9" y1="688.72" x2="318.9" y2="688.72" stroke="#6a6a6a" stroke-width="1.2"/>
<text x="317.29999999999995" y="691.72" font-size="7.8" font-weight="bold" text-anchor="end" fill="#000">40</text>
<line x1="316.9" y1="673.78" x2="318.9" y2="673.78" stroke="#6a6a6a" stroke-width="1.2"/>
<text x="317.29999999999995" y="676.78" font-size="7.8" font-weight="bold" text-anchor="end" fill="#000">60</text>
<line x1="316.9" y1="658.84" x2="318.9" y2="658.84" stroke="#6a6a6a" stroke-width="1.2"/>
<text x="317.29999999999995" y="661.84" font-size="7.8" font-weight="bold" text-anchor="end" fill="#000">80</text>
<line x1="316.9" y1="643.9" x2="318.9" y2="643.9" stroke="#6a6a6a" stroke-width="1.2"/>
<text x="317.29999999999995" y="646.9" font-size="7.8" font-weight="bold" text-anchor="end" fill="#000">100</text>
<line x1="319.5" y1="718.6" x2="319.5" y2="720.6" stroke="#6a6a6a" stroke-width="1.2"/>
<text x="319.5" y="729.1" font-size="7.8" font-weight="bold" text-anchor="middle" fill="#000">0</text>
<line x1="345.9" y1="718.6" x2="345.9" y2="720.6" stroke="#6a6a6a" stroke-width="1.2"/>
<text x="345.9" y="729.1" font-size="7.8" font-weight="bold" text-anchor="middle" fill="#000">7</text>
<line x1="372.3" y1="718.6" x2="372.3" y2="720.6" stroke="#6a6a6a" stroke-width="1.2"/>
<text x="372.3" y="729.1" font-size="7.8" font-weight="bold" text-anchor="middle" fill="#000">14</text>
<line x1="398.7" y1="718.6" x2="398.7" y2="720.6" stroke="#6a6a6a" stroke-width="1.2"/>
<text x="398.7" y="729.1" font-size="7.8" font-weight="bold" text-anchor="middle" fill="#000">21</text>
<line x1="425.1" y1="718.6" x2="425.1" y2="720.6" stroke="#6a6a6a" stroke-width="1.2"/>
<text x="425.1" y="729.1" font-size="7.8" font-weight="bold" text-anchor="middle" fill="#000">28</text>
<text x="372.6" y="741.9" font-size="8.2" font-weight="bold" text-anchor="middle" fill="#000" textLength="42.8" lengthAdjust="spacingAndGlyphs">Time (Days)</text>
<text x="300.2" y="679" font-size="8.1" font-weight="bold" text-anchor="middle" fill="#000" transform="rotate(-90 300.2 679)" textLength="70.7" lengthAdjust="spacingAndGlyphs">Surviving mice (%)</text>
<path d="M318.9,643.9 H334.7 V651.4 H346.2 V658.8 H350.1 V673.8 H352.5 V681.2 H357.4 V688.7 H426.1 m0,0.5 v-2.3" stroke="#333" stroke-width="1.15" fill="none"/>
<path d="M318.9,643.9 H346.2 V651.4 H350.1 V666.3 H353.1 V681.2 H426.1 m0,0.5 v-2.3" stroke="#cc3838" stroke-width="1.15" fill="none" stroke-opacity="0.85"/>
<line x1="323.5" y1="700.6" x2="332.0" y2="700.6" stroke="#d84848" stroke-width="1.2"/>
<line x1="327.75" y1="699.3000000000001" x2="327.75" y2="701.9" stroke="#d84848" stroke-width="0.9"/>
<text x="336.2" y="703.5" font-size="7.8" text-anchor="start" fill="#000">OVX</text>
<line x1="323.5" y1="709.5" x2="332.0" y2="709.5" stroke="#333" stroke-width="1.2"/>
<line x1="327.75" y1="708.2" x2="327.75" y2="710.8" stroke="#333" stroke-width="0.9"/>
<text x="336.2" y="712.4" font-size="7.8" text-anchor="start" fill="#000">Sham</text>
</g>
</svg>
</body></html>
